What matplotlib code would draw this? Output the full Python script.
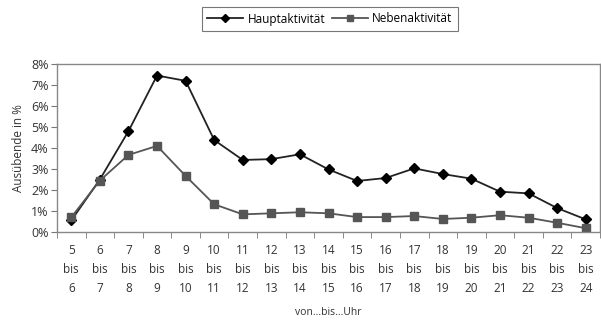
import matplotlib
matplotlib.use("Agg")
import matplotlib.pyplot as plt
import numpy as np

plt.rcParams['font.family'] = ['Open Sans', 'DejaVu Sans']

start_hours = list(range(5, 24))
haupt = [0.55, 2.5, 4.8, 7.45, 7.2, 4.38, 3.43, 3.47, 3.7, 2.98, 2.43, 2.57,
         3.03, 2.76, 2.54, 1.92, 1.84, 1.14, 0.6]
neben = [0.7, 2.45, 3.67, 4.1, 2.67, 1.32, 0.84, 0.89, 0.94, 0.89, 0.71, 0.71,
         0.76, 0.62, 0.68, 0.8, 0.68, 0.44, 0.18]
tick_labels = [f"{h}\nbis\n{h + 1}" for h in start_hours]
y_ticks = list(range(0, 9))

fig = plt.figure(figsize=(6.01, 3.22), dpi=100)
ax = fig.add_axes([57 / 601, 1 - 232 / 322, 543 / 601, 168 / 322])

x = np.arange(len(start_hours))
ax.plot(x, haupt, color='#222222', lw=1.3, marker='D', ms=5.2,
        mfc='black', mec='black', label='Hauptaktivität')
ax.plot(x, neben, color='#555555', lw=1.3, marker='s', ms=5.2,
        mfc='#555555', mec='#555555', label='Nebenaktivität')

ax.set_xlim(-0.5, len(x) - 0.5)
ax.set_ylim(0, 8)
ax.set_yticks(y_ticks)
ax.set_yticklabels([f"{v}%" for v in y_ticks], fontsize=9, color='#333333')
ax.set_xticks(x)
ax.set_xticklabels(tick_labels, fontsize=8.5, color='#333333', linespacing=1.55)
ax.tick_params(axis='x', length=0, pad=9)
ax.set_xticks(np.arange(-0.5, len(x), 1), minor=True)
ax.tick_params(axis='x', which='minor', length=4, color='#777777', direction='out')
ax.tick_params(axis='y', length=4, color='#777777', direction='out', pad=2)

for side in ['left', 'bottom', 'top', 'right']:
    ax.spines[side].set_color('#888888')
    ax.spines[side].set_linewidth(1.0)

ax.set_ylabel('Ausübende in %', fontsize=8.5, color='#333333', labelpad=4)
ax.set_xlabel('von...bis...Uhr', fontsize=7.5, color='#333333', labelpad=9)

leg = fig.legend(loc='center', bbox_to_anchor=(330 / 601, 1 - 19 / 322), ncol=2,
                 fontsize=8.5, frameon=True, fancybox=False, edgecolor='#555555',
                 handlelength=3.0, handletextpad=0.4, columnspacing=0.6,
                 borderpad=0.45, markerscale=0.85)
leg.get_frame().set_linewidth(0.8)

fig.savefig('out.png', dpi=100)
